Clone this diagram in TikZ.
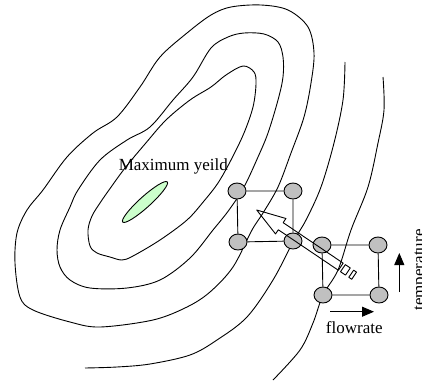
\documentclass[tikz,border=0pt]{standalone}
\usepackage{fontspec}
\setmainfont{Liberation Serif}
\usetikzlibrary{arrows.meta,shapes.geometric}
\definecolor{knobgray}{RGB}{192,192,192}
\definecolor{peakgreen}{RGB}{204,255,204}
\begin{document}
\begin{tikzpicture}[x=1pt,y=-1pt,
  contour/.style={line width=0.9pt, line join=round},
  runpt/.style={draw, fill=knobgray, ellipse, minimum width=18pt, minimum height=16pt, inner sep=0pt, line width=0.9pt},
  edge/.style={line width=0.9pt},
  axisarrow/.style={line width=0.9pt, -{Triangle[length=12pt,width=10pt]}},
  lbl/.style={font=\fontsize{17}{20}\selectfont, inner sep=0pt}]
\useasboundingbox (0,0) rectangle (422,380);

% yield contours, innermost first
\draw[contour] plot[smooth cycle, tension=0.55] coordinates {
  (243,66) (254,72) (256,84) (253,107) (244,133) (231,160) (218,183) (204,201)
  (187,220) (160,240) (133,256) (122,260) (110,257) (97,253) (90,246) (88,230)
  (92,216) (100,203) (109,190) (125,168) (145,144) (166,120) (190,100) (211,87) (226,75)};
\draw[contour] plot[smooth cycle, tension=0.55] coordinates {
  (211,48) (228,37) (244,33) (264,34) (278,42) (283,57) (283,77) (278,100)
  (268,133) (258,157) (244,187) (229,210) (213,230) (190,258) (160,280) (127,288)
  (90,288) (70,280) (60,267) (57,250) (60,230) (70,207) (78,190) (100,160)
  (127,140) (150,127) (173,100) (193,77)};
\draw[contour] plot[smooth cycle, tension=0.55] coordinates {
  (211,15) (231,7) (261,5) (288,10) (308,27) (314,53) (311,83) (304,117)
  (291,153) (278,187) (263,213) (252,230) (233,267) (210,292) (187,307) (153,320)
  (100,327) (70,322) (33,310) (20,297) (15,263) (17,233) (27,210) (43,190)
  (67,157) (93,133) (117,117) (140,87) (160,57) (187,33)};
\draw[contour] plot[smooth, tension=0.55] coordinates {
  (345,62) (343,100) (334,143) (321,187) (306,220) (293,242) (273,280) (247,317)
  (217,340) (190,355) (150,364) (117,367) (85,368)};
\draw[contour] plot[smooth, tension=0.55] coordinates {
  (383,77) (384,110) (378,143) (368,187) (351,230) (338,270) (323,295) (313,323)
  (300,350) (273,380)};

% optimum region
\node[draw, fill=peakgreen, ellipse, minimum width=60pt, minimum height=11pt,
      inner sep=0pt, rotate=42, line width=0.9pt] (peak) at (145,202) {};
\node[lbl, anchor=base] (peaklbl) at (173.3,170) {Maximum yeild};

% second design (moved towards the optimum)
\node[runpt] (b1) at (237,191) {};
\node[runpt] (b2) at (293,191) {};
\node[runpt] (b3) at (293,241) {};
\node[runpt] (b4) at (238,242) {};
\draw[edge] (b1) -- (b2) (b2) -- (b3) (b3) -- (b4) (b4) -- (b1);

% first design
\node[runpt] (a1) at (322,245) {};
\node[runpt] (a2) at (378,245) {};
\node[runpt] (a3) at (379,295) {};
\node[runpt] (a4) at (323,295) {};
\draw[edge] (a1) -- (a2) (a2) -- (a3) (a3) -- (a4) (a4) -- (a1);

% striped arrow of steepest ascent
\begin{scope}[shift={(256.7,210)}, rotate=-34]
  \coordinate (tip) at (0,0);
  \draw[contour] (tip) -- (29,9.3) -- (29,4.3) -- (101.4,4.3) -- (101.4,-4.3)
        -- (29,-4.3) -- (29,-9.3) -- cycle;
  \draw[contour] (104,-4.3) rectangle (110,4.3);
  \draw[contour] (114,-4.3) rectangle (117.5,4.3);
\end{scope}

% factor axes
\coordinate (fr0) at (330,311.7);
\coordinate (fr1) at (374,311.7);
\draw[axisarrow] (fr0) -- (fr1);
\node[lbl, anchor=base] (frlbl) at (354.3,333.3) {flowrate};

\coordinate (tp0) at (399.3,292);
\coordinate (tp1) at (399.3,253);
\draw[axisarrow] (tp0) -- (tp1);
\node[lbl, anchor=base, rotate=90] (tplbl) at (424,270) {temperature};
\end{tikzpicture}
\end{document}
